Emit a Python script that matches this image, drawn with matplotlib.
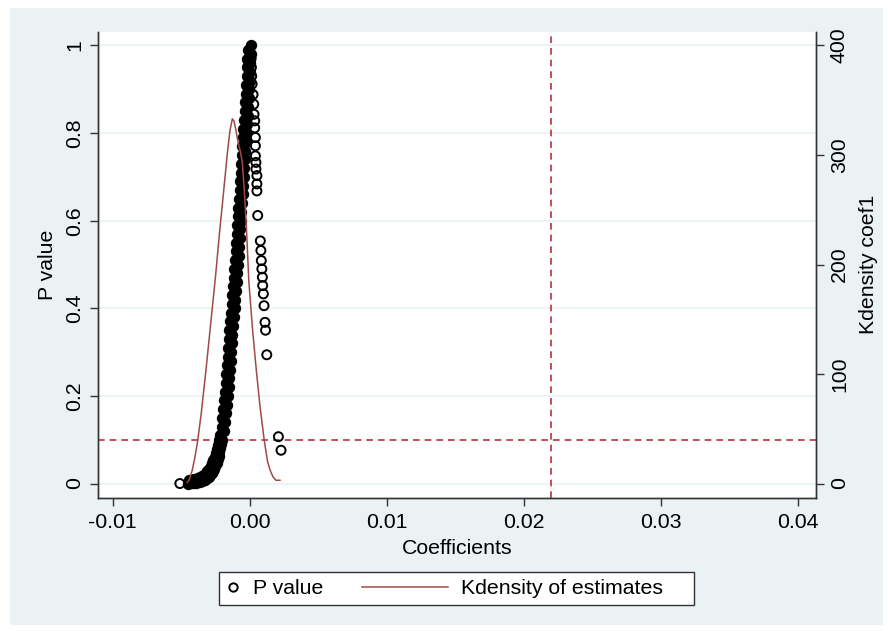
import matplotlib
matplotlib.use('Agg')
import matplotlib.pyplot as plt
from matplotlib.patches import Rectangle
from matplotlib.lines import Line2D
from matplotlib.legend_handler import HandlerLine2D

plt.rcParams['font.family'] = ['Liberation Sans', 'DejaVu Sans']

# estimated coefficients and their p values
coef_low = [-0.00453, -0.00438, -0.00423, -0.00408, -0.00393, -0.00378, -0.00364, -0.00350,
            -0.00337, -0.00324, -0.00312, -0.00300, -0.00289, -0.00278, -0.00268, -0.00259,
            -0.00250, -0.00242, -0.00235, -0.00228, -0.00222, -0.00216, -0.00210, -0.00205,
            -0.00440, -0.00425, -0.00410, -0.00395, -0.00380, -0.00365, -0.00350, -0.00336,
            -0.00322, -0.00309, -0.00297, -0.00286, -0.00276, -0.00266, -0.00257, -0.00248,
            -0.00240, -0.00232, -0.00224]
p_low = [0.000, 0.001, 0.001, 0.002, 0.002, 0.003, 0.004, 0.005,
         0.007, 0.009, 0.012, 0.015, 0.019, 0.023, 0.028, 0.034,
         0.040, 0.047, 0.055, 0.063, 0.072, 0.081, 0.090, 0.100,
         0.008, 0.009, 0.010, 0.011, 0.013, 0.015, 0.017, 0.020,
         0.024, 0.028, 0.033, 0.039, 0.046, 0.053, 0.061, 0.070,
         0.079, 0.089, 0.099]

coef_a = [-0.00214, -0.00206, -0.00199, -0.00193, -0.00187, -0.00181, -0.00175, -0.00170,
          -0.00165, -0.00161, -0.00156, -0.00152, -0.00148, -0.00143, -0.00138, -0.00133,
          -0.00128, -0.00122, -0.00116, -0.00112, -0.00107, -0.00103, -0.00099, -0.00095,
          -0.00091, -0.00087, -0.00083, -0.00078, -0.00074, -0.00070, -0.00066, -0.00062,
          -0.00059, -0.00055, -0.00051, -0.00047, -0.00043, -0.00038, -0.00034, -0.00030,
          -0.00026, -0.00023, -0.00020, -0.00018, -0.00016]
p_a = [0.11, 0.13, 0.15, 0.17, 0.19, 0.21, 0.23, 0.25, 0.27, 0.29, 0.31, 0.33, 0.35, 0.37,
       0.39, 0.41, 0.43, 0.45, 0.47, 0.49, 0.51, 0.53, 0.55, 0.57, 0.59, 0.61, 0.63, 0.65,
       0.67, 0.69, 0.71, 0.73, 0.75, 0.77, 0.79, 0.81, 0.83, 0.85, 0.87, 0.89, 0.91, 0.93,
       0.95, 0.97, 0.99]

coef_b = [-0.00186, -0.00178, -0.00172, -0.00166, -0.00160, -0.00154, -0.00148, -0.00143,
          -0.00139, -0.00134, -0.00130, -0.00126, -0.00121, -0.00116, -0.00111, -0.00106,
          -0.00101, -0.00095, -0.00090, -0.00085, -0.00081, -0.00077, -0.00073, -0.00069,
          -0.00065, -0.00061, -0.00056, -0.00052, -0.00048, -0.00044, -0.00040, -0.00036,
          -0.00033, -0.00029, -0.00025, -0.00021, -0.00016, -0.00012, -0.00008, -0.00004,
          0.00000, 0.00003, 0.00005, 0.00007, 0.00009]
p_b = [0.12, 0.14, 0.16, 0.18, 0.20, 0.22, 0.24, 0.26, 0.28, 0.30, 0.32, 0.34, 0.36, 0.38,
       0.40, 0.42, 0.44, 0.46, 0.48, 0.50, 0.52, 0.54, 0.56, 0.58, 0.60, 0.62, 0.64, 0.66,
       0.68, 0.70, 0.72, 0.74, 0.76, 0.78, 0.80, 0.82, 0.84, 0.86, 0.88, 0.90, 0.92, 0.94,
       0.96, 0.98, 1.00]

coef_out = [-0.00510, 0.00010, 0.00012, 0.00014, 0.00017, 0.00024, 0.00029, 0.00031,
            0.00036, 0.00036, 0.00041, 0.00041, 0.00041, 0.00045, 0.00045, 0.00052,
            0.00052, 0.00052, 0.00058, 0.00077, 0.00081, 0.00084, 0.00088, 0.00092,
            0.00094, 0.00099, 0.00104, 0.00111, 0.00115, 0.00124, 0.00209, 0.00228]
p_out = [0.000, 0.970, 0.950, 0.930, 0.912, 0.888, 0.866, 0.843,
         0.828, 0.812, 0.790, 0.771, 0.748, 0.733, 0.718, 0.703,
         0.684, 0.668, 0.612, 0.554, 0.532, 0.509, 0.490, 0.471,
         0.452, 0.433, 0.406, 0.368, 0.350, 0.294, 0.107, 0.076]

# kernel density of the estimates
kd_x = [-0.00455, -0.00440, -0.00420, -0.00400, -0.00380, -0.00355, -0.00320, -0.00285,
        -0.00250, -0.00220, -0.00192, -0.00165, -0.00145, -0.00127, -0.00115, -0.00100,
        -0.00086, -0.00070, -0.00055, -0.00040, -0.00025, -0.00007, 0.00020, 0.00048,
        0.00075, 0.00106, 0.00130, 0.00149, 0.00170, 0.00190, 0.00220]
kd_y = [1, 4, 12, 24, 39, 63, 103, 146, 189, 230, 265, 300, 322, 333, 331, 322,
        312, 304, 294, 268, 235, 185, 141, 103, 70, 39, 20, 12, 6, 3, 3]

p_cut = 0.1
true_coef = 0.022

xticks = [-0.01, 0.0, 0.01, 0.02, 0.03, 0.04]
xtick_labels = ['-0.01', '0.00', '0.01', '0.02', '0.03', '0.04']
yticks = [0, 0.2, 0.4, 0.6, 0.8, 1]
ytick_labels = ['0', '0.2', '0.4', '0.6', '0.8', '1']
y2ticks = [0, 100, 200, 300, 400]

bg = '#EAF2F3'
red = '#B8323F'
brown = '#9E4A48'
fs = 15.3

fig = plt.figure(figsize=(8.88, 6.31), dpi=100, facecolor='white')
fig.patches.append(Rectangle((10 / 888, 6 / 631), 873 / 888, 617 / 631,
                             transform=fig.transFigure, facecolor=bg, edgecolor='none', zorder=0))

ax = fig.add_axes([98 / 888, 1 - 498 / 631, 718 / 888, 466.3 / 631])
ax.set_facecolor('white')
ax2 = ax.twinx()

ymin, ymax = -0.033, 1.0315
ax.set_xlim(-0.01107, 0.0413)
ax.set_ylim(ymin, ymax)
ax2.set_ylim(ymin * 400, ymax * 400)

for yt in yticks:
    ax.axhline(yt, color=bg, lw=1.2, zorder=0)

# the rings in the main band overlap so much that they read as a solid strip
band_c = coef_low + coef_a + coef_b
band_p = p_low + p_a + p_b
ax.scatter(band_c, band_p, s=46, facecolors='black', edgecolors='black', linewidths=1.4, zorder=3)
ax.scatter(coef_out, p_out, s=42, facecolors='none', edgecolors='black', linewidths=1.4, zorder=3)

ax.axhline(p_cut, color=red, lw=1.2, ls=(0, (4, 3)), zorder=2)
ax.axvline(true_coef, color=red, lw=1.2, ls=(0, (4, 3)), zorder=2)

ax2.plot(kd_x, kd_y, color=brown, lw=1.1)

ax.set_xticks(xticks)
ax.set_xticklabels(xtick_labels)
ax.set_yticks(yticks)
ax.set_yticklabels(ytick_labels)
ax2.set_yticks(y2ticks)

for a in (ax, ax2):
    for s in a.spines.values():
        s.set_color('#333333')
        s.set_linewidth(1.0)
    a.spines['top'].set_visible(False)
    a.tick_params(colors='#333333', labelcolor='black', labelsize=fs, length=6, width=1.0)

ax.tick_params(axis='x', pad=5)
ax.tick_params(axis='y', labelrotation=90, pad=4)
ax2.tick_params(axis='y', labelrotation=90, pad=4)
for lab in ax.get_yticklabels():
    lab.set_va('center')
for lab in ax2.get_yticklabels():
    lab.set_va('center')

ax.set_xlabel('Coefficients', fontsize=fs, labelpad=5)
ax.set_ylabel('P value', fontsize=fs, labelpad=6)
ax2.set_ylabel('Kdensity coef1', fontsize=fs, labelpad=7)

# kdensity line on top of the scatter axes
ax.set_zorder(1)
ax2.set_zorder(2)
ax2.patch.set_visible(False)


class WideLine(HandlerLine2D):
    def get_xdata(self, legend, xdescent, ydescent, width, height, fontsize):
        return [-xdescent - 3.4 * fontsize, -xdescent + width], [-xdescent + 0.5 * width]


h1 = Line2D([], [], ls='none', marker='o', markersize=6, markerfacecolor='none',
            markeredgecolor='black', markeredgewidth=1.4)
h2 = Line2D([], [], color=brown, lw=1.1)
# trailing spaces give the wide right margin of the original key
leg = fig.legend([h1, h2], ['P value', 'Kdensity of estimates    '], loc='center',
                 bbox_to_anchor=(456.5 / 888, 1 - 588.5 / 631), ncol=2, fontsize=fs,
                 handlelength=0.62, handletextpad=0.6, columnspacing=5.25, borderpad=0.35,
                 fancybox=False, framealpha=1, edgecolor='#333333',
                 handler_map={h2: WideLine()})
leg.get_frame().set_linewidth(1.0)

fig.savefig('out.png', dpi=100, facecolor=fig.get_facecolor())
